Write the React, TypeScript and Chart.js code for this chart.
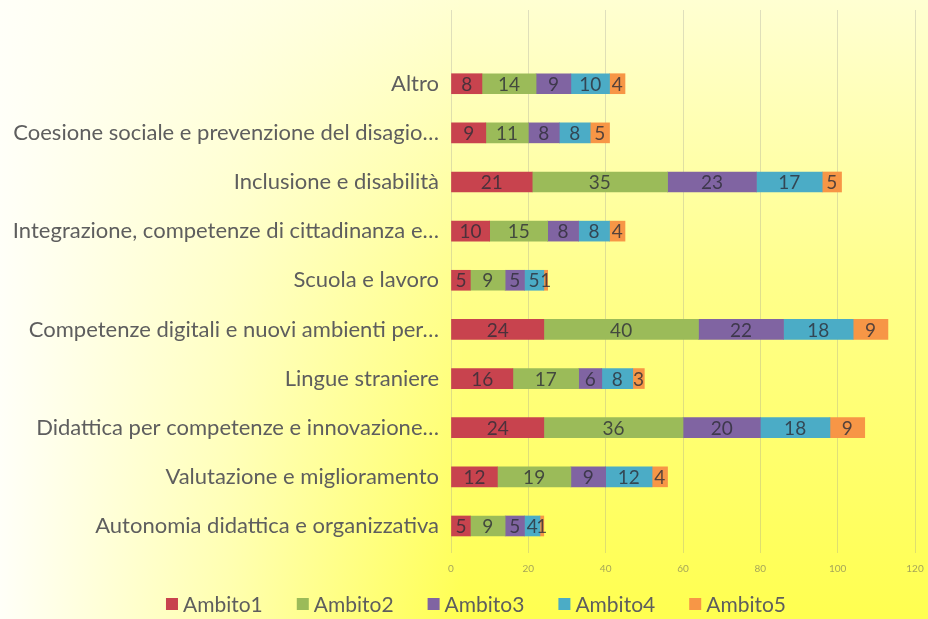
import React, { useEffect, useRef } from "react";
import { Chart, registerables } from "chart.js";

Chart.register(...registerables);

const categories = [
  "Altro",
  "Coesione sociale e prevenzione del disagio…",
  "Inclusione e disabilità",
  "Integrazione, competenze di cittadinanza e…",
  "Scuola e lavoro",
  "Competenze digitali e nuovi ambienti per…",
  "Lingue straniere",
  "Didattica per competenze e innovazione…",
  "Valutazione e miglioramento",
  "Autonomia didattica e organizzativa",
];

const seriesNames = ["Ambito1", "Ambito2", "Ambito3", "Ambito4", "Ambito5"];

const ambito1 = [8, 9, 21, 10, 5, 24, 16, 24, 12, 5];
const ambito2 = [14, 11, 35, 15, 9, 40, 17, 36, 19, 9];
const ambito3 = [9, 8, 23, 8, 5, 22, 6, 20, 9, 5];
const ambito4 = [10, 8, 17, 8, 5, 18, 8, 18, 12, 4];
const ambito5 = [4, 5, 5, 4, 1, 9, 3, 9, 4, 1];

const xTickValues = [0, 20, 40, 60, 80, 100, 120];

const seriesColors = ["#C8434E", "#9BBB59", "#8064A2", "#4BACC6", "#F79646"];

const FONT = "Lato, 'Open Sans', sans-serif";

const dataLabelPlugin = {
  id: "barValueLabels",
  afterDatasetsDraw(chart: any) {
    const ctx = chart.ctx;
    ctx.save();
    ctx.font = `19px ${FONT}`;
    ctx.fillStyle = "rgba(45,45,55,0.8)";
    ctx.textAlign = "center";
    ctx.textBaseline = "middle";
    chart.data.datasets.forEach((ds: any, di: number) => {
      const meta = chart.getDatasetMeta(di);
      meta.data.forEach((el: any, i: number) => {
        const v = ds.data[i].x;
        const cx = (el.x + el.base) / 2;
        ctx.fillText(String(v), cx, el.y + 1);
      });
    });
    ctx.restore();
  },
};

const legendPlugin = {
  id: "bottomLegend",
  afterDraw(chart: any) {
    const ctx = chart.ctx;
    ctx.save();
    ctx.font = `21px ${FONT}`;
    ctx.textBaseline = "middle";
    ctx.textAlign = "left";
    const box = 12;
    const gap = 5;
    const spacing = 34;
    const items = chart.data.datasets.map((ds: any) => ({
      text: ds.label,
      color: ds.backgroundColor,
      w: ctx.measureText(ds.label).width,
    }));
    const total =
      items.reduce((s: number, it: any) => s + box + gap + it.w, 0) +
      spacing * (items.length - 1);
    let x = (chart.width - total) / 2 + 12;
    const y = chart.height - 15;
    items.forEach((it: any) => {
      ctx.fillStyle = it.color;
      ctx.fillRect(x, y - box / 2, box, box);
      x += box + gap;
      ctx.fillStyle = "#5e5e5e";
      ctx.fillText(it.text, x, y + 1);
      x += it.w + spacing;
    });
    ctx.restore();
  },
};

export default function App() {
  const canvasRef = useRef<HTMLCanvasElement | null>(null);

  useEffect(() => {
    if (!canvasRef.current) return;
    const datasets = [ambito1, ambito2, ambito3, ambito4, ambito5].map((vals, si) => ({
      label: seriesNames[si],
      data: vals.map((v, i) => ({ x: v, y: i })),
      backgroundColor: seriesColors[si],
      borderWidth: 0,
      barThickness: 20,
    }));

    const chart = new Chart(canvasRef.current, {
      type: "bar",
      data: { datasets },
      options: {
        indexAxis: "y",
        animation: false,
        responsive: true,
        maintainAspectRatio: false,
        events: [],
        layout: { padding: { top: 10, right: 13, bottom: 41, left: 0 } },
        plugins: {
          legend: { display: false },
          tooltip: { enabled: false },
        },
        scales: {
          x: {
            type: "linear",
            stacked: true,
            min: 0,
            max: 120,
            afterBuildTicks: (scale: any) => {
              scale.ticks = xTickValues.map((v) => ({ value: v }));
            },
            afterFit: (scale: any) => {
              scale.height = 25;
              scale.paddingLeft = 0;
              scale.paddingRight = 0;
            },
            grid: { color: "rgba(150,150,150,0.3)", lineWidth: 1, drawTicks: false },
            border: { display: false },
            ticks: {
              padding: 10,
              color: "rgba(90,90,90,0.55)",
              font: { family: FONT, size: 10 },
            },
          },
          y: {
            type: "linear",
            stacked: true,
            reverse: true,
            offset: false,
            min: -1.5,
            max: 9.55,
            afterBuildTicks: (scale: any) => {
              scale.ticks = categories.map((_, i) => ({ value: i }));
            },
            afterFit: (scale: any) => {
              scale.width = 451;
              scale.paddingTop = 0;
              scale.paddingBottom = 0;
            },
            grid: { display: false, drawTicks: false, offset: false },
            border: { display: false },
            ticks: {
              autoSkip: false,
              padding: 12,
              color: "#5e5e5e",
              font: { family: FONT, size: 22 },
              callback: (v: any) => categories[v as number] ?? "",
            },
          },
        },
      },
      plugins: [dataLabelPlugin, legendPlugin],
    } as any);

    return () => chart.destroy();
  }, []);

  return (
    <div
      style={{
        position: "fixed",
        left: 0,
        top: 0,
        width: 928,
        height: 619,
        background:
          "linear-gradient(to right, rgba(255,255,248,1) 0%, rgba(255,255,248,0.55) 25%, rgba(255,255,248,0) 50%), linear-gradient(to bottom, #FFFFD2 0%, #FFFF8C 45%, #FFFF50 100%)",
      }}
    >
      <canvas ref={canvasRef} style={{ width: "100%", height: "100%" }} />
    </div>
  );
}
